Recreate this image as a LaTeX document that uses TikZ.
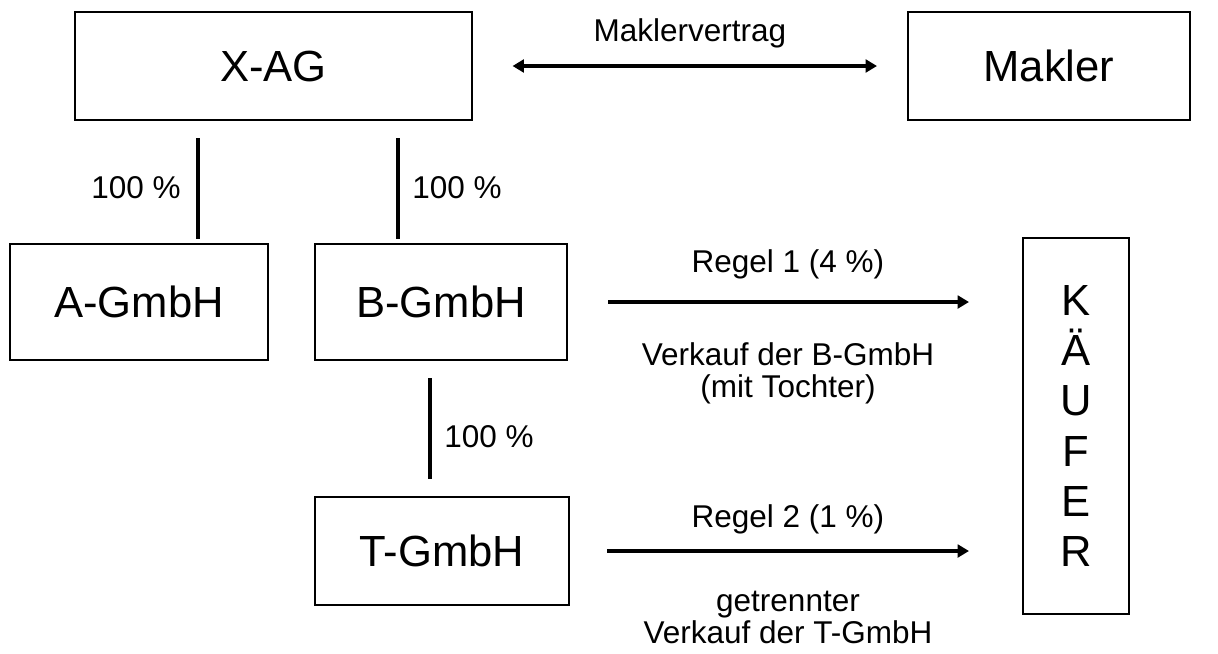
\documentclass[tikz,border=0pt]{standalone}
\usepackage{fontspec}
\setmainfont{Liberation Sans}
\usetikzlibrary{arrows.meta}

\begin{document}
\begin{tikzpicture}[x=0.025cm,y=-0.025cm,
  entity/.style={draw,line width=1.4pt,inner sep=0pt,font=\fontsize{31}{36}\selectfont},
  stake/.style={line width=2.8pt},
  deal/.style={line width=2.6pt,-{Triangle[length=8pt,width=9pt]}},
  lbl/.style={inner sep=0pt,align=center,font=\fontsize{22.4}{22.8}\selectfont}]
  \useasboundingbox (0,0) rectangle (1218,653);

  % companies
  \node[entity,minimum width=9.9cm,minimum height=2.7cm] (xag) at (273.5,66) {X-AG};
  \node[entity,minimum width=7.05cm,minimum height=2.7cm] (makler) at (1049,66) {Makler};
  \node[entity,minimum width=6.45cm,minimum height=2.9cm] (agmbh) at (139,302) {A-GmbH};
  \node[entity,minimum width=6.3cm,minimum height=2.9cm] (bgmbh) at (441,302) {B-GmbH};
  \node[entity,minimum width=6.35cm,minimum height=2.7cm] (tgmbh) at (442,551) {T-GmbH};
  \node[entity,minimum width=2.65cm,minimum height=9.4cm,align=center,
        font=\fontsize{31}{35.6}\selectfont] (kaeufer) at (1076,426) {K\\Ä\\U\\F\\E\\R};

  % shareholdings
  \coordinate (xa) at (198,0);
  \coordinate (xb) at (398,0);
  \coordinate (bt) at (430,0);
  \draw[stake,shorten <=0.425cm,shorten >=0.1cm] (xag.south -| xa) -- (agmbh.north -| xa);
  \draw[stake,shorten <=0.425cm,shorten >=0.1cm] (xag.south -| xb) -- (bgmbh.north -| xb);
  \draw[stake,shorten <=0.425cm,shorten >=0.425cm] (bgmbh.south -| bt) -- (tgmbh.north -| bt);
  \node[lbl,anchor=east] (pa) at (181,188) {100 \%};
  \node[lbl,anchor=west] (pb) at (412,188) {100 \%};
  \node[lbl,anchor=west] (pt) at (444,437) {100 \%};

  % contracts and sales
  \draw[deal,{Triangle[length=8pt,width=9pt]}-{Triangle[length=8pt,width=9pt]},
        shorten <=1cm,shorten >=0.75cm] (xag.east) -- (makler.west);
  \node[lbl,anchor=base] (vertrag) at (690,41) {Maklervertrag};

  \draw[deal,shorten <=1cm,shorten >=1.325cm] (bgmbh.east) -- (bgmbh.east -| kaeufer.west);
  \node[lbl,anchor=base] (regel1) at (788,272) {Regel 1 (4 \%)};
  \node[lbl,anchor=north] (sale1) at (788,342) {Verkauf der B-GmbH\\(mit Tochter)};

  \draw[deal,shorten <=0.925cm,shorten >=1.325cm] (tgmbh.east) -- (tgmbh.east -| kaeufer.west);
  \node[lbl,anchor=base] (regel2) at (788,527) {Regel 2 (1 \%)};
  \node[lbl,anchor=north] (sale2) at (788,591) {getrennter\\Verkauf der T-GmbH};
\end{tikzpicture}
\end{document}
